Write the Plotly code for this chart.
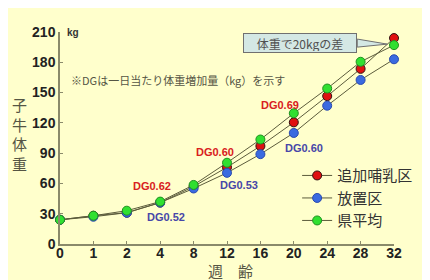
import plotly.graph_objects as go

weeks = ["0", "1", "2", "4", "8", "12", "16", "20", "24", "28", "32"]
tsuika = [24, 28, 31, 41, 57, 76, 97, 120.5, 146.5, 173.5, 204]
houchi = [24, 27, 31, 41, 55, 70.5, 89, 110, 137, 162.5, 183]
ken = [24, 28, 33, 42, 58.5, 80.5, 103.5, 129.5, 154, 180.5, 197]
names = ["追加哺乳区", "放置区", "県平均"]
fills = ["#E01010", "#3A6AE0", "#30E030"]
edges = ["#301010", "#2A4AB0", "#209020"]

dg_red = ["DG0.62", "DG0.60", "DG0.69", "DG0.79"]
dg_red_pos = [(2.76, 57), (4.63, 91), (6.59, 138), (10.12, 218)]
dg_blue = ["DG0.52", "DG0.53", "DG0.60", "DG0.70"]
dg_blue_pos = [(3.18, 27), (5.37, 58), (7.3, 95), (10.39, 172)]

BG = "#FFFFCC"
FONT = "Liberation Sans, Noto Sans CJK JP, sans-serif"
JP = "Noto Sans CJK JP, sans-serif"

fig = go.Figure()
for vals, nm, fc, ec in zip([tsuika, houchi, ken], names, fills, edges):
    fig.add_trace(go.Scatter(
        x=list(range(len(weeks))), y=vals, name=nm, mode="lines+markers",
        line=dict(color="#5C5C3C", width=1),
        marker=dict(size=9, color=fc, line=dict(color=ec, width=1)),
        cliponaxis=False,
    ))

for t, (x, y) in zip(dg_red, dg_red_pos):
    fig.add_annotation(x=x, y=y, text=t, showarrow=False,
                       font=dict(family=FONT, size=11, color="#D82020", weight="bold"))
for t, (x, y) in zip(dg_blue, dg_blue_pos):
    fig.add_annotation(x=x, y=y, text=t, showarrow=False,
                       font=dict(family=FONT, size=11, color="#4646A8", weight="bold"))

# note
fig.add_annotation(x=0.28, y=162, xanchor="left", yanchor="middle",
                   text="※DGは一日当たり体重増加量（kg）を示す",
                   showarrow=False, font=dict(family=JP, size=11, color="#555544"))
# callout tail
fig.add_shape(type="path", path="M 8.9,203 L 9.8,198 L 8.9,195 Z",
              fillcolor="#D4E8E4", line=dict(color="#707070", width=1))
# callout box
fig.add_annotation(x=7.2, y=199.5, text="体重で20kgの差", showarrow=False,
                   width=110, height=16, bgcolor="#D4E8E4", bordercolor="#707070",
                   borderwidth=1, borderpad=1,
                   font=dict(family=JP, size=12, color="#505050"))
# bracket
fig.add_shape(type="rect", x0=10.19, x1=10.34, y0=182, y1=204,
              fillcolor="#CCE4F0", line=dict(color="#808080", width=1))

# axis titles
fig.add_annotation(xref="paper", x=-0.12, xanchor="center", y=109, yanchor="middle",
                   text="子<br>牛<br>体<br>重", showarrow=False,
                   font=dict(family=JP, size=15, color="#555544"))
fig.add_annotation(xref="paper", yref="paper", x=0.51, xanchor="center", y=0, yanchor="middle",
                   yshift=-26, text="週　齢",
                   showarrow=False, font=dict(family=JP, size=15, color="#555544"))
fig.add_annotation(xref="paper", x=0.015, y=210, xanchor="left", yanchor="middle", text="kg",
                   showarrow=False,
                   font=dict(family=FONT, size=10, color="#333333", weight="bold"))

fig.update_layout(
    width=422, height=272, margin=dict(l=52, r=33, t=24, b=36),
    paper_bgcolor=BG, plot_bgcolor=BG, showlegend=True,
    legend=dict(x=0.71, y=0.40, xanchor="left", yanchor="top", bgcolor="rgba(0,0,0,0)",
                font=dict(family=JP, size=15, color="#333333"), tracegroupgap=0,
                itemwidth=30),
    xaxis=dict(range=[0, 10], tickmode="array", tickvals=list(range(len(weeks))), ticktext=weeks,
               showgrid=False, zeroline=False, showline=True, linecolor="#8A8A6A", linewidth=1.5,
               ticks="inside", ticklen=3, tickcolor="#8A8A6A", ticklabelstandoff=-5,
               tickfont=dict(family=FONT, size=14, color="#222222", weight="bold")),
    yaxis=dict(range=[0, 210], tickvals=[0, 30, 60, 90, 120, 150, 180, 210],
               showgrid=False, zeroline=False, showline=True, linecolor="#8A8A6A", linewidth=1.5,
               ticks="inside", ticklen=3, tickcolor="#8A8A6A",
               tickfont=dict(family=FONT, size=14, color="#222222", weight="bold")),
)
fig.write_html("out.html")
